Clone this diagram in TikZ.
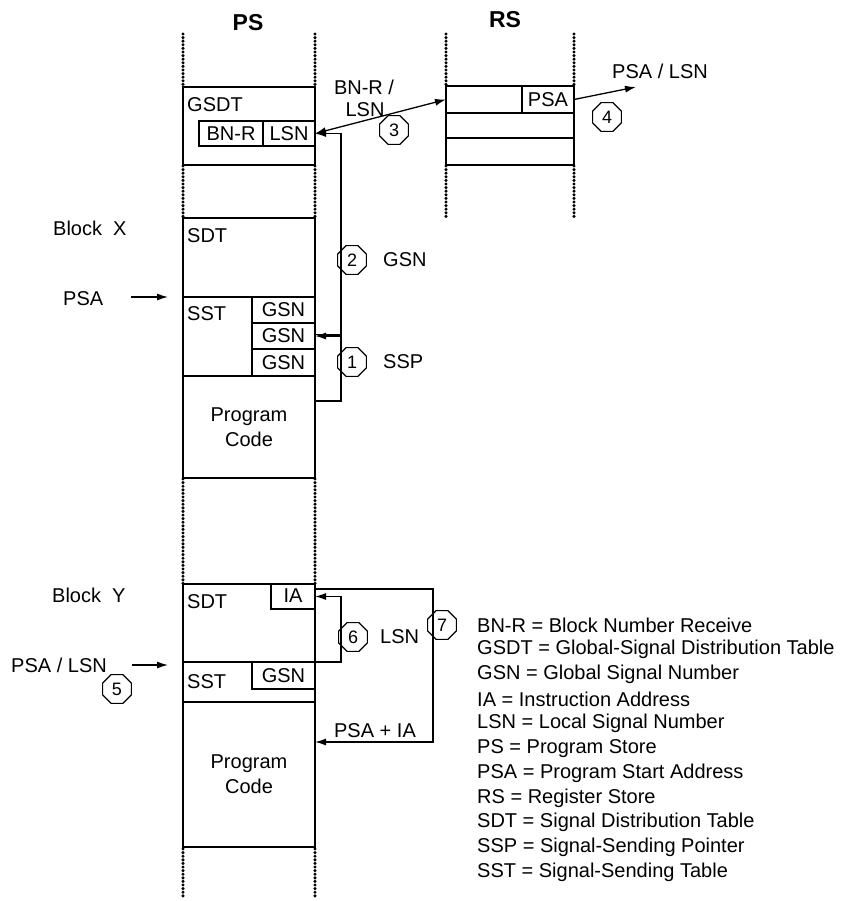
\documentclass[tikz,border=0pt]{standalone}
\usepackage{fontspec}
\setmainfont{Liberation Sans}
\usetikzlibrary{shapes.geometric,arrows.meta}
\tikzset{
 box/.style={draw, line width=1.3pt, inner sep=0pt, outer sep=0pt, anchor=north west},
 txt/.style={inner sep=0pt, font=\fontsize{20}{24}\selectfont},
 hdr/.style={inner sep=0pt, font=\fontsize{23}{27}\selectfont\bfseries},
 num/.style={draw, regular polygon, regular polygon sides=8, minimum size=31pt, inner sep=0pt, line width=1.1pt, font=\fontsize{18}{20}\selectfont},
 dotfill/.style={fill=black},
 arr/.style={line width=1.3pt, -{Latex[length=11pt,width=7pt]}},
}
\newcommand\boxnode[5]{\node[box, minimum width={(#4-#2)*1pt}, minimum height={(#5-#3)*1pt}] (#1) at (#2,#3) {};}
% dotted edge: x, y1, y2
\newcommand\dotedge[3]{%
  \pgfmathsetmacro\ysecond{#2+3.6}%
  \foreach \yy in {#2,\ysecond,...,#3}{\fill[dotfill] (#1,\yy) circle (1.7pt);}}
\begin{document}
\begin{tikzpicture}[x=1pt,y=-1pt]
\useasboundingbox (0,0) rectangle (841,901);
% headers
\node[hdr] (hps) at (248,23) {PS};
\node[hdr] (hrs) at (505,20) {RS};
% PS column dotted parts
\foreach \xx in {183,315}{
  \dotedge{\xx}{34}{87}
  \dotedge{\xx}{166}{218}
  \dotedge{\xx}{479}{584}
  \dotedge{\xx}{849}{899}
}
% GSDT
\boxnode{gsdt}{183}{87}{315}{165}
\node[txt,anchor=west] (tgsdt) at (187,105) {GSDT};
\boxnode{bnr}{199}{121}{263}{146}
\boxnode{lsn}{263}{121}{315}{146}
\node[txt] (tbnr) at (231,133.5) {BN-R};
\node[txt] (tlsn) at (289,133.5) {LSN};
% Block X
\boxnode{sdtx}{183}{218}{315}{297}
\node[txt,anchor=west] (tsdtx) at (187,236) {SDT};
\boxnode{sstx}{183}{297}{315}{376}
\node[txt,anchor=west] (tsstx) at (187,314) {SST};
\boxnode{gsn1}{252}{297}{315}{323}
\boxnode{gsn2}{252}{323}{315}{349}
\boxnode{gsn3}{252}{349}{315}{376}
\node[txt] (tg1) at (283.5,310) {GSN};
\node[txt] (tg2) at (283.5,336) {GSN};
\node[txt] (tg3) at (283.5,362.5) {GSN};
\boxnode{pcx}{183}{376}{315}{478}
\node[txt,align=center] (tpcx) at (249,427) {Program\\[1pt]Code};
% Block Y
\boxnode{sdty}{183}{584}{315}{662}
\node[txt,anchor=west] (tsdty) at (187,602) {SDT};
\boxnode{ia}{271}{584}{315}{609}
\node[txt] (tia) at (293,596) {IA};
\boxnode{ssty}{183}{662}{315}{702}
\node[txt,anchor=west] (tssty) at (187,682) {SST};
\boxnode{gsny}{252}{662}{315}{689}
\node[txt] (tgy) at (283.5,675.5) {GSN};
\boxnode{pcy}{183}{702}{315}{847}
\node[txt,align=center] (tpcy) at (249,774.5) {Program\\[1pt]Code};
% RS column
\foreach \xx in {446,574}{
  \dotedge{\xx}{34}{86}
  \dotedge{\xx}{166}{218}
}
\boxnode{rs1}{446}{86}{574}{113}
\boxnode{rs2}{446}{113}{574}{138}
\boxnode{rs3}{446}{138}{574}{165}
\boxnode{psa}{522}{86}{574}{113}
\node[txt] (tpsa) at (548,99.5) {PSA};
% left labels
\node[txt,anchor=west] (blx) at (53,228) {Block\ \ X};
\node[txt,anchor=west] (psax) at (63,299) {PSA};
\draw[arr] ([xshift=28pt]psax.east |- sdtx.south) -- ([xshift=-15pt]sdtx.south west);
\node[txt,anchor=west] (bly) at (52,595) {Block\ \ Y};
\node[txt,anchor=east] (psalsn) at (107,665) {PSA / LSN};
\draw[arr] ([xshift=25pt]psalsn.east) -- ([xshift=-15pt]psalsn.east -| sdty.west);
\node[num] (n5) at (117,689) {5};
% connectors block X
\coordinate (sspsrc) at (315,401);
\draw[arr] (sspsrc) -- (341,401) |- (gsn2.east);
\draw[arr] ([yshift=1.5pt]gsn2.east) -- (341,334.5) |- (lsn.east);
\node[num] (n1) at (352,362) {1};
\node[txt,anchor=west] (tssp) at (383,362) {SSP};
\node[num] (n2) at (352,260) {2};
\node[txt,anchor=west] (tgsn) at (383,260) {GSN};
% arrow 3
\draw[line width=1.3pt, {Latex[length=11pt,width=7pt]}-{Latex[length=11pt,width=7pt]}] (lsn.east) -- (rs1.west);
\node[txt] (tbr1) at (364,87) {BN-R /};
\node[txt] (tbr2) at (365,110) {LSN};
\node[num] (n3) at (394,130) {3};
% arrow 4
\coordinate (out4) at (636,87);
\draw[arr] (psa.east) -- (out4);
\node[txt] (tpl) at (660,71) {PSA / LSN};
\node[num] (n4) at (607,117) {4};
% arrow 6
\draw[arr] (ssty.north east) -- (341,662) |- (ia.east);
\node[num] (n6) at (353,637) {6};
\node[txt,anchor=west] (tl6) at (380,637) {LSN};
% arrow 7
\coordinate (in7) at (315,742);
\draw[arr] ([yshift=-5pt]ia.north east) -- (433,589) |- (in7);
\node[txt] (tpia) at (375,731) {PSA + IA};
\node[num] (n7) at (442,625) {7};
% legend
\foreach \t [count=\i from 0] in {BN-R = Block Number Receive,GSDT = Global-Signal Distribution Table,GSN = Global Signal Number,IA = Instruction Address,LSN = Local Signal Number,PS = Program Store,PSA = Program Start Address,RS = Register Store,SDT = Signal Distribution Table,SSP = Signal-Sending Pointer,SST = Signal-Sending Table}{
  \node[txt,anchor=west] (leg\i) at (477,625+24.7*\i) {\t};
}
\end{tikzpicture}
\end{document}
